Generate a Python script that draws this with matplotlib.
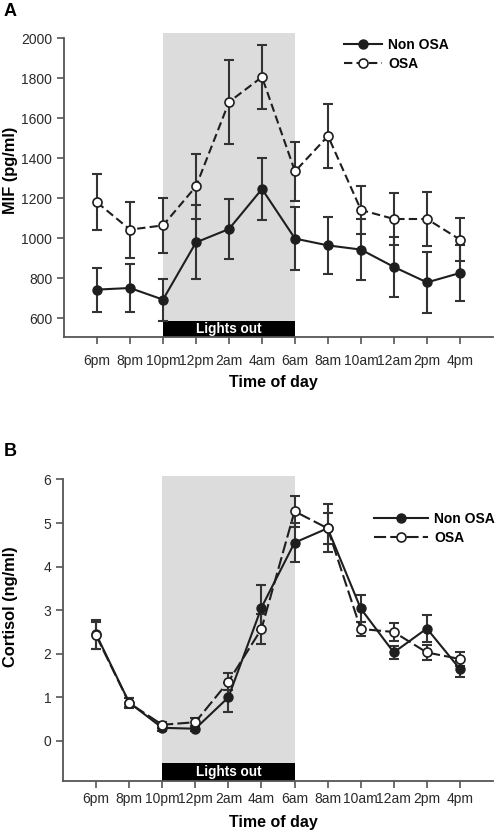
import matplotlib
matplotlib.use("Agg")
import matplotlib.pyplot as plt
from matplotlib.patches import Rectangle
from matplotlib.lines import Line2D

plt.rcParams['font.family'] = ['Liberation Sans', 'DejaVu Sans']

# ---------------- data ----------------
times = ["6pm", "8pm", "10pm", "12pm", "2am", "4am", "6am", "8am", "10am", "12am", "2pm", "4pm"]

mif_non = [742, 750, 692, 978, 1045, 1245, 997, 963, 942, 855, 778, 825]
mif_non_err = [110, 120, 105, 185, 150, 155, 158, 142, 152, 152, 152, 140]
mif_osa = [1178, 1042, 1063, 1258, 1680, 1805, 1333, 1510, 1140, 1095, 1095, 992]
mif_osa_err = [140, 140, 138, 162, 208, 162, 148, 160, 120, 128, 133, 108]

cort_non = [2.45, 0.88, 0.30, 0.28, 1.00, 3.06, 4.55, 4.88, 3.04, 2.03, 2.58, 1.65]
cort_non_err = [0.33, 0.10, 0.07, 0.06, 0.33, 0.52, 0.45, 0.55, 0.30, 0.15, 0.30, 0.18]
cort_osa = [2.42, 0.87, 0.37, 0.43, 1.36, 2.57, 5.27, 4.88, 2.57, 2.50, 2.03, 1.88]
cort_osa_err = [0.30, 0.12, 0.07, 0.10, 0.20, 0.35, 0.35, 0.35, 0.17, 0.20, 0.17, 0.17]

labels = ["Non OSA", "OSA"]

W, H = 498, 834
fig = plt.figure(figsize=(W / 100, H / 100), dpi=100)

LINE = "#1e1e1e"
ERR = "#333333"
SPINE = "#555555"
SHADE = "#dcdcdc"
TICKFS = 10


def make_panel(ax_rect, x_vals, non, non_e, osa, osa_e, ylim, ytop_spine, yticks,
               bar_top, dashes, xpad):
    ax = fig.add_axes(ax_rect)
    x = list(range(len(x_vals)))
    ax.set_xlim(-1, 12)
    ax.set_ylim(*ylim)
    # shaded night region and lights-out bar
    ax.add_patch(Rectangle((2, bar_top), 4, ylim[1] - bar_top, facecolor=SHADE,
                           edgecolor='none', zorder=0))
    ax.add_patch(Rectangle((2, ylim[0]), 4, bar_top - ylim[0], facecolor='black',
                           edgecolor='none', zorder=1, clip_on=False))
    ax.text(4, (ylim[0] + bar_top) / 2, "Lights out", color='white', fontweight='bold',
            fontsize=9.8, ha='center', va='center', zorder=2)
    ax.errorbar(x, non, yerr=non_e, fmt='none', ecolor=ERR, elinewidth=1.5,
                capsize=3.8, capthick=1.5, zorder=3)
    ax.errorbar(x, osa, yerr=osa_e, fmt='none', ecolor=ERR, elinewidth=1.5,
                capsize=3.8, capthick=1.5, zorder=3)
    ax.plot(x, non, '-', color=LINE, lw=1.5, marker='o', ms=6.5,
            mfc=LINE, mec=LINE, zorder=4)
    ax.plot(x, osa, '--', color=LINE, lw=1.5, dashes=dashes, marker='o', ms=6.5,
            mfc='white', mec=LINE, mew=1.2, zorder=5)
    for s in ['top', 'right']:
        ax.spines[s].set_visible(False)
    for s in ['left', 'bottom']:
        ax.spines[s].set_color(SPINE)
        ax.spines[s].set_linewidth(1.3)
    ax.spines['left'].set_bounds(ylim[0], ytop_spine)
    ax.set_xticks(x)
    ax.set_xticklabels(x_vals)
    ax.set_yticks(yticks)
    ax.tick_params(axis='both', colors=SPINE, labelcolor='#2a2a2a', labelsize=TICKFS,
                   length=5, width=1.2)
    ax.tick_params(axis='x', pad=xpad)
    return ax


# Panel A
axA = make_panel([64 / W, 1 - 337 / H, (493 - 64) / W, (337 - 33) / H], times,
                 mif_non, mif_non_err, mif_osa, mif_osa_err,
                 (505, 2025), 2000, list(range(600, 2001, 200)), 585,
                 (4, 2), 7)
# Panel B
axB = make_panel([63 / W, 1 - 781 / H, (493 - 63) / W, (781 - 476) / H], times,
                 cort_non, cort_non_err, cort_osa, cort_osa_err,
                 (-0.92, 6.08), 6, list(range(0, 7)), -0.5,
                 (5.8, 2), 3)

# axis titles
fig.text(11 / W, 1 - 170 / H, "MIF (pg/ml)", rotation=90, fontsize=11.8,
         fontweight='bold', ha='center', va='center')
fig.text(11 / W, 1 - 607 / H, "Cortisol (ng/ml)", rotation=90, fontsize=11.8,
         fontweight='bold', ha='center', va='center')
fig.text(273 / W, 1 - 383 / H, "Time of day", fontsize=11.5, fontweight='bold',
         ha='center', va='center')
fig.text(273 / W, 1 - 823 / H, "Time of day", fontsize=11.5, fontweight='bold',
         ha='center', va='center')

fig.text(4 / W, 1 - 12 / H, "A", fontsize=13, fontweight='bold', va='center', ha='left')
fig.text(4 / W, 1 - 451 / H, "B", fontsize=13, fontweight='bold', va='center', ha='left')


def legend(ax, x0, y0, handlelen, dashes):
    h1 = Line2D([], [], color=LINE, lw=1.5, marker='o', ms=6.5, mfc=LINE, mec=LINE)
    h2 = Line2D([], [], color=LINE, lw=1.5, ls='--', dashes=dashes, marker='o', ms=6.5,
                mfc='white', mec=LINE, mew=1.2)
    leg = ax.legend([h1, h2], labels, loc='upper left',
                    bbox_to_anchor=(x0 / W, 1 - y0 / H), bbox_transform=fig.transFigure,
                    frameon=False, borderpad=0, borderaxespad=0, handlelength=handlelen,
                    handletextpad=0.45, labelspacing=0.35,
                    prop={'weight': 'bold', 'size': 10}, numpoints=1)
    return leg


legend(axA, 344, 38, 2.75, (4, 2))
legend(axB, 374, 512, 3.9, (5.8, 2))

fig.savefig("out.png", dpi=100)
